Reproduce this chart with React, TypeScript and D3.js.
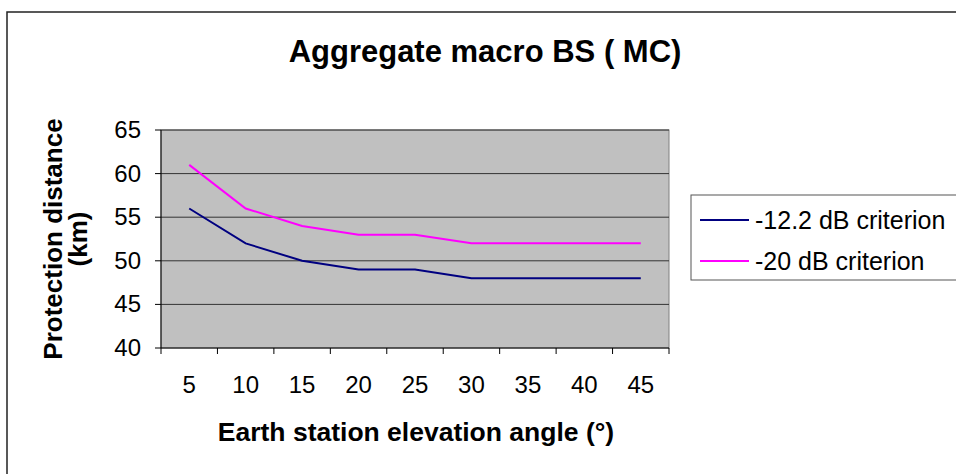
import * as d3 from 'd3';

const angles = ['5', '10', '15', '20', '25', '30', '35', '40', '45'];
const crit12 = [56, 52, 50, 49, 49, 48, 48, 48, 48];
const crit20 = [61, 56, 54, 53, 53, 52, 52, 52, 52];
const yTicks = [40, 45, 50, 55, 60, 65];
const seriesNames = ['-12.2 dB criterion', '-20 dB criterion'];
const seriesColors = ['#000080', '#ff00ff'];

const W = 956;
const H = 474;
const plot = { left: 161, right: 669, top: 130, bottom: 348 };
const font = 'Arial, "Liberation Sans", sans-serif';

export default function App() {
  const x = d3.scaleBand().domain(angles).range([plot.left, plot.right]);
  const y = d3.scaleLinear().domain([40, 65]).range([plot.bottom, plot.top]);
  const line = d3
    .line<number>()
    .x((_, i) => (x(angles[i]) as number) + x.bandwidth() / 2)
    .y(d => y(d));
  const series = [crit12, crit20];
  const bounds = [...angles.map(a => x(a) as number), plot.right];

  return (
    <svg
      width={W}
      height={H}
      style={{ position: 'absolute', left: 0, top: 0, fontFamily: font }}
    >
      <rect x={0} y={0} width={W} height={H} fill="#fff" />
      <rect x={7} y={12} width={W + 10} height={H} fill="none" stroke="#222" strokeWidth={1.5} />

      <text x={485} y={62} textAnchor="middle" fontSize={31} fontWeight="bold">
        Aggregate macro BS ( MC)
      </text>

      <rect
        x={plot.left}
        y={plot.top}
        width={plot.right - plot.left}
        height={plot.bottom - plot.top}
        fill="#c0c0c0"
        stroke="#808080"
      />
      {yTicks.slice(1).map(t => (
        <line key={t} x1={plot.left} x2={plot.right} y1={y(t)} y2={y(t)} stroke="#333" />
      ))}
      <line x1={plot.left} x2={plot.left} y1={plot.top} y2={plot.bottom} stroke="#000" />
      <line x1={plot.left} x2={plot.right} y1={plot.bottom} y2={plot.bottom} stroke="#000" />
      {yTicks.map(t => (
        <g key={t}>
          <line x1={plot.left - 6} x2={plot.left} y1={y(t)} y2={y(t)} stroke="#000" />
          <text x={141} y={y(t) + 8} textAnchor="end" fontSize={24}>
            {t}
          </text>
        </g>
      ))}
      {bounds.map((b, i) => (
        <line key={i} x1={b} x2={b} y1={plot.bottom} y2={plot.bottom + 6} stroke="#000" />
      ))}
      {angles.map(a => (
        <text
          key={a}
          x={(x(a) as number) + x.bandwidth() / 2}
          y={393}
          textAnchor="middle"
          fontSize={24}
        >
          {a}
        </text>
      ))}

      {series.map((s, i) => (
        <path key={i} d={line(s) ?? ''} fill="none" stroke={seriesColors[i]} strokeWidth={2} />
      ))}

      <text x={416} y={441} textAnchor="middle" fontSize={26.5} fontWeight="bold">
        Earth station elevation angle (°)
      </text>
      <text
        transform={`translate(62,${(plot.top + plot.bottom) / 2}) rotate(-90)`}
        textAnchor="middle"
        fontSize={26}
        fontWeight="bold"
      >
        Protection distance
      </text>
      <text
        transform={`translate(87,${(plot.top + plot.bottom) / 2}) rotate(-90)`}
        textAnchor="middle"
        fontSize={26}
        fontWeight="bold"
      >
        (km)
      </text>

      <rect x={691} y={195} width={W} height={85} fill="#fff" stroke="#555" />
      {seriesNames.map((n, i) => (
        <g key={n}>
          <line x1={700} x2={749} y1={220 + i * 41} y2={220 + i * 41} stroke={seriesColors[i]} strokeWidth={2} />
          <text x={755} y={229 + i * 41} fontSize={25}>
            {n}
          </text>
        </g>
      ))}
    </svg>
  );
}
